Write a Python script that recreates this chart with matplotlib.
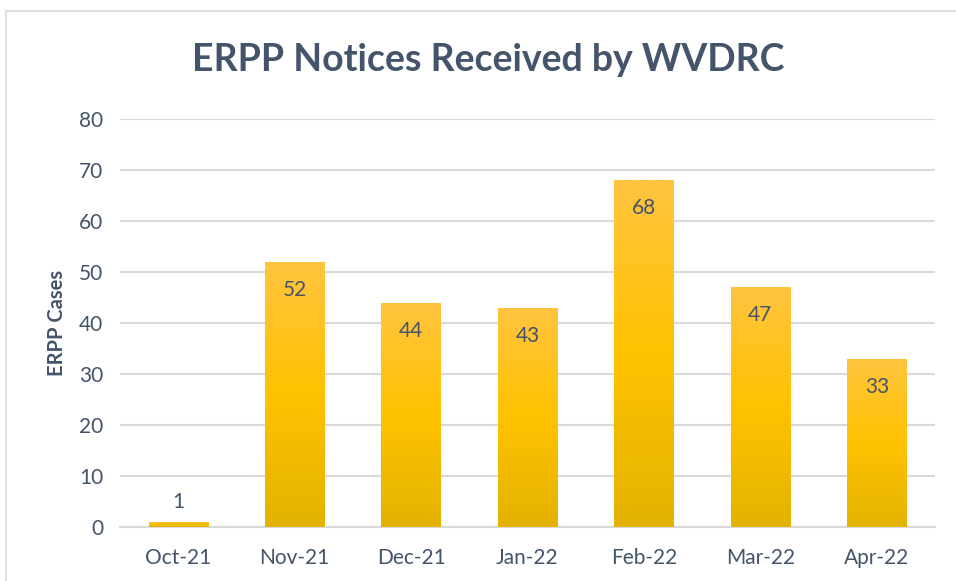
import matplotlib
matplotlib.use("Agg")
import matplotlib.pyplot as plt
import numpy as np
from matplotlib.colors import LinearSegmentedColormap
from matplotlib.patches import Rectangle

months = ["Oct-21", "Nov-21", "Dec-21", "Jan-22", "Feb-22", "Mar-22", "Apr-22"]
cases = [1, 52, 44, 43, 68, 47, 33]
yticks = [0, 10, 20, 30, 40, 50, 60, 70, 80]

TXT = "#44546A"
plt.rcParams['font.family'] = ['Lato', 'DejaVu Sans']

fig = plt.figure(figsize=(9.56, 5.81), dpi=100)
ax = fig.add_axes([120/956, 1-527/581, 815/956, 408/581])

# figure border
fig.patches.append(Rectangle((6/956, -0.01), 1.0, 1 - 11/581 + 0.01, transform=fig.transFigure,
                             fill=False, edgecolor="#D9D9D9", linewidth=1.2))

cmap = LinearSegmentedColormap.from_list("g", [(0, "#E3B300"), (0.5, "#FFC200"), (1, "#FFC440")])
grad = np.linspace(0, 1, 256).reshape(-1, 1)
width = 0.51
bars = ax.bar(range(len(months)), cases, width=width, color="none", zorder=3)
for b, v in zip(bars, cases):
    x0 = b.get_x()
    im = ax.imshow(grad, extent=[x0, x0 + width, 0, v], origin="lower", cmap=cmap,
                   aspect="auto", zorder=3, interpolation="bilinear")
    im.set_clip_path(b)
    if v > 5:
        ax.text(b.get_x() + width/2, v - 5.5, str(v), ha="center", va="center",
                fontsize=15, color=TXT, zorder=4)
    else:
        ax.text(b.get_x() + width/2, v + 4.0, str(v), ha="center", va="center",
                fontsize=15, color=TXT, zorder=4)

ax.set_xlim(-0.5, len(months) - 0.5)
ax.set_ylim(0, 80)
ax.set_yticks(yticks)
ax.set_xticks(range(len(months)))
ax.set_xticklabels(months)
ax.tick_params(axis="both", length=0, labelsize=15, labelcolor=TXT)
ax.tick_params(axis="y", pad=12)
ax.tick_params(axis="x", pad=15)
ax.grid(axis="y", color="#D9D9D9", linewidth=1.5, zorder=0)
ax.set_axisbelow(True)
for s in ["top", "right", "left"]:
    ax.spines[s].set_visible(False)
ax.spines["bottom"].set_color("#D9D9D9")
ax.spines["bottom"].set_linewidth(1.5)

ax.set_ylabel("ERPP Cases", fontsize=14.5, fontweight="bold", color=TXT, labelpad=9)
fig.text(488/956, 1 - 60/581, "ERPP Notices Received by WVDRC", ha="center", va="center",
         fontsize=27, fontweight="bold", color=TXT)

fig.savefig("out.png", dpi=100)
